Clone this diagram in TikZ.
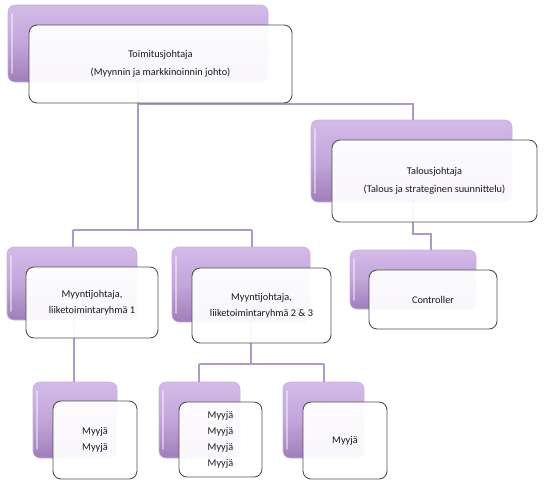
\documentclass[tikz,border=0pt]{standalone}
\usepackage{fontspec}
\setmainfont{Carlito}
\begin{document}
\begin{tikzpicture}[x=1pt,y=-1pt,
  pbox/.style={rectangle,rounded corners=7pt,inner sep=0pt,
    top color=pTop,bottom color=pBot,middle color=pMid,draw=pEdge,line width=0.6pt,
    path picture={\draw[white,opacity=0.45,line width=1.6pt,line cap=round]
      ([xshift=4pt,yshift=-9pt]path picture bounding box.north west) --
      ([xshift=4pt,yshift=9pt]path picture bounding box.south west);}},
  wbox/.style={rectangle,rounded corners=8pt,inner sep=0pt,
    fill=white,fill opacity=0.94,text opacity=1,draw=wEdge,line width=0.9pt,
    font=\fontsize{10.3}{16}\selectfont,align=center,text=black!90},
  conn/.style={draw=cLine,line width=1.8pt}]
\definecolor{pTop}{HTML}{D3BBE9}
\definecolor{pMid}{HTML}{C2A6DA}
\definecolor{pBot}{HTML}{A07DBA}
\definecolor{pEdge}{HTML}{C8B0DC}
\definecolor{wEdge}{HTML}{505050}
\definecolor{cLine}{HTML}{AE9AC6}
\useasboundingbox (0,0) rectangle (545,485);
% purple backing boxes
\node[pbox,minimum width=260pt,minimum height=77pt] (P0) at (138,43.5) {};
\node[pbox,minimum width=201pt,minimum height=82pt] (P1) at (411.5,161) {};
\node[pbox,minimum width=130pt,minimum height=73pt] (P2) at (72,283.5) {};
\node[pbox,minimum width=138pt,minimum height=75pt] (P3) at (241,284.5) {};
\node[pbox,minimum width=126pt,minimum height=59pt] (P4) at (413,279.5) {};
\node[pbox,minimum width=84pt,minimum height=76pt] (P5) at (75,420) {};
\node[pbox,minimum width=81pt,minimum height=76pt] (P6) at (199.5,420) {};
\node[pbox,minimum width=81pt,minimum height=76pt] (P7) at (323.5,420) {};
% junction coordinates
\coordinate (j0) at (138,104);
\coordinate (j0r) at (413,104);
\coordinate (j1) at (138,230);
\coordinate (j1l) at (73,230);
\coordinate (j1r) at (252,230);
\coordinate (j2) at (413,234);
\coordinate (j2r) at (431,234);
\coordinate (j3) at (251,364);
\coordinate (j3l) at (199,364);
\coordinate (j3r) at (324,364);
\coordinate (j4) at (74,0);
% connectors
\draw[conn] (P0.south) -- (j1);
\draw[conn] (j1l) -- (j1r);
\draw[conn] (j1l) -- (j1l |- P2.north);
\draw[conn] (j1r) -- (j1r |- P3.north);
\draw[conn] (j0) -- (j0r) -- (j0r |- P1.north);
\draw[conn] (P1.south -| j2) -- (j2) -- (j2r) -- (j2r |- P4.north);
\draw[conn] (P2.south -| j4) -- (j4 |- P5.north);
\draw[conn] (P3.south -| j3) -- (j3);
\draw[conn] (j3l) -- (j3r);
\draw[conn] (j3l) -- (j3l |- P6.north);
\draw[conn] (j3r) -- (j3r |- P7.north);
% white text boxes
\node[wbox,minimum width=263pt,minimum height=78pt] (W0) at (160.5,64)
  {Toimitusjohtaja\\[2pt](Myynnin ja markkinoinnin johto)};
\node[wbox,minimum width=205pt,minimum height=82pt] (W1) at (434.5,181)
  {Talousjohtaja\\[2pt](Talous ja strateginen suunnittelu)};
\node[wbox,minimum width=132pt,minimum height=71pt] (W2) at (92,302.5)
  {Myyntijohtaja,\\liiketoimintaryhmä 1};
\node[wbox,minimum width=139pt,minimum height=75pt] (W3) at (261.5,305.5)
  {Myyntijohtaja,\\liiketoimintaryhmä 2 \& 3};
\node[wbox,minimum width=128pt,minimum height=59pt] (W4) at (433,299.5)
  {Controller};
\node[wbox,minimum width=84pt,minimum height=78pt] (W5) at (95,440)
  {Myyjä\\Myyjä};
\node[wbox,minimum width=83pt,minimum height=75pt] (W6) at (220.5,439.5)
  {Myyjä\\Myyjä\\Myyjä\\Myyjä};
\node[wbox,minimum width=84pt,minimum height=77pt] (W7) at (345,440.5)
  {Myyjä};
\end{tikzpicture}
\end{document}
